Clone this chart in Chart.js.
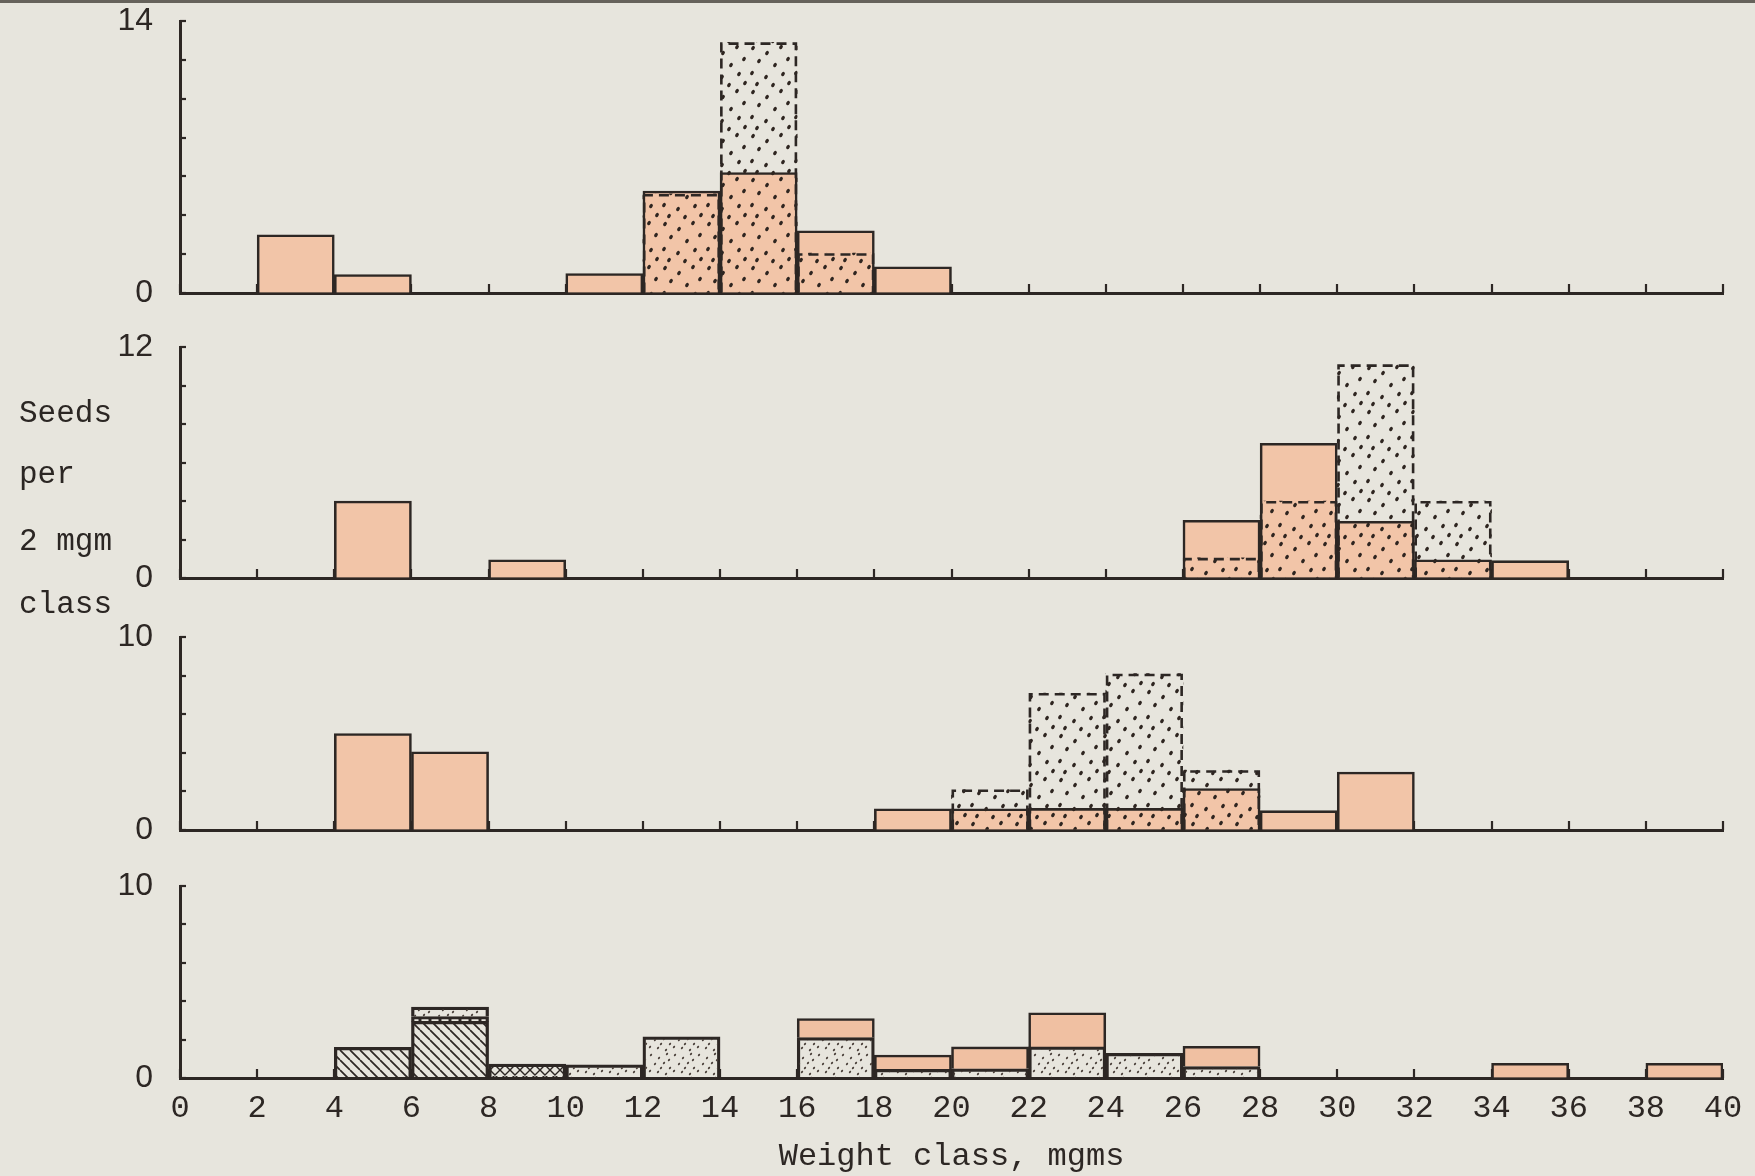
<!DOCTYPE html>
<html><head><meta charset="utf-8">
<script src="https://cdn.jsdelivr.net/npm/chart.js@4.4.1/dist/chart.umd.min.js"></script>
<style>
html,body{margin:0;padding:0;}
body{width:1755px;height:1176px;background:#e7e5dd;position:relative;overflow:hidden;}
#topline{position:absolute;left:0;top:0;width:1755px;height:3px;background:#66625b;}
.panel{position:absolute;left:0;width:1755px;}
.panel canvas{display:block;}
.ylab{position:absolute;left:19px;font-family:"Liberation Mono","DejaVu Sans Mono",monospace;font-size:31px;line-height:31px;color:#2b2623;white-space:pre;}
</style></head>
<body>
<div id="topline"></div>
<div class="panel" style="top:0px;height:315px"><canvas id="c1" width="1755" height="315"></canvas></div>
<div class="panel" style="top:320px;height:282px"><canvas id="c2" width="1755" height="282"></canvas></div>
<div class="panel" style="top:600px;height:252px"><canvas id="c3" width="1755" height="252"></canvas></div>
<div class="panel" style="top:860px;height:316px"><canvas id="c4" width="1755" height="316"></canvas></div>
<div class="ylab" style="top:398px">Seeds</div>
<div class="ylab" style="top:459px">per</div>
<div class="ylab" style="top:526px">2 mgm</div>
<div class="ylab" style="top:589px">class</div>
<script>
// ---- data ----
// weight classes (2 mgm wide), midpoints
const classMid = [1,3,5,7,9,11,13,15,17,19,21,23,25,27,29,31,33,35,37,39];
const xTickLabels = ['0','2','4','6','8','10','12','14','16','18','20','22','24','26','28','30','32','34','36','38','40'];

// panel 1 (top)
const p1Solid  = [null,3.0,0.95,null,null,1.0,5.25,6.2,3.2,1.35,null,null,null,null,null,null,null,null,null,null];
const p1Dashed = [null,null,null,null,null,null,5.1,12.9,2.05,null,null,null,null,null,null,null,null,null,null,null];
// panel 2
const p2Solid  = [null,null,4.0,null,0.95,null,null,null,null,null,null,null,null,3.0,7.0,2.95,0.95,0.9,null,null];
const p2Dashed = [null,null,null,null,null,null,null,null,null,null,null,null,null,1.05,4.0,11.1,4.0,null,null,null];
// panel 3
const p3Solid  = [null,null,5.0,4.05,null,null,null,null,null,1.1,1.1,1.12,1.12,2.15,1.0,3.0,null,null,null,null];
const p3Dashed = [null,null,null,null,null,null,null,null,null,null,2.1,7.1,8.1,3.1,null,null,null,null,null,null];
// panel 4 (bottom, stacked)
const p4Diag    = [null,null,1.6,2.95,null,null,null,null,null,null,null,null,null,null,null,null,null,null,null,null];
const p4Cross   = [null,null,null,0.25,0.73,null,null,null,null,null,null,null,null,null,null,null,null,null,null,null];
const p4Stipple = [null,null,null,0.5,null,0.68,2.15,null,2.1,0.45,0.48,1.62,1.28,0.6,null,null,null,null,null,null];
const p4Orange  = [null,null,null,null,null,null,null,null,1.0,0.75,1.14,1.78,null,1.05,null,null,null,0.77,null,0.77];

const yMax = [14, 12, 10, 10];

// ---- styles ----
const INK = '#2d2724';
const ORANGE = '#f2c5a8';
const ORANGE4 = '#f0c0a2';
const MONO = '"Liberation Mono","DejaVu Sans Mono",monospace';
const SANS = '"Liberation Sans","DejaVu Sans",sans-serif';
const BW = 2.6;

function tile(size, draw){
  const c = document.createElement('canvas'); c.width = c.height = size;
  const g = c.getContext('2d'); draw(g, size);
  return document.createElement('canvas').getContext('2d').createPattern(c, 'repeat');
}
const coarseDots = [[5,4],[19,9],[33,3],[11,17],[27,21],[40,15],[4,29],[18,33],[35,30],[25,41],[9,40],[41,39]];
const fineDots = [[3,3],[11,6],[19,2],[7,12],[16,11],[22,16],[2,19],[10,20],[18,22],[13,16],[21,8]];
const stippleCoarse = tile(44, (g)=>{ g.fillStyle='#2e2520'; coarseDots.forEach(([x,y])=>{ g.beginPath(); g.ellipse(x,y,1.7,2.4,0.5,0,Math.PI*2); g.fill(); }); });
const stippleFine = tile(24, (g)=>{ g.fillStyle='#4a403a'; fineDots.forEach(([x,y])=>{ g.beginPath(); g.ellipse(x,y,1.0,1.4,0.6,0,Math.PI*2); g.fill(); }); });
const diagHatch = tile(10, (g,s)=>{ g.strokeStyle=INK; g.lineWidth=1.7; g.beginPath();
  g.moveTo(-s,0); g.lineTo(0,s); g.moveTo(0,0); g.lineTo(s,s); g.moveTo(s,0); g.lineTo(2*s,s); g.stroke(); });
const crossHatch = tile(10, (g,s)=>{ g.strokeStyle=INK; g.lineWidth=1.4; g.beginPath();
  g.moveTo(-s,0); g.lineTo(0,s); g.moveTo(0,0); g.lineTo(s,s); g.moveTo(s,0); g.lineTo(2*s,s);
  g.moveTo(0,s); g.lineTo(s,0); g.moveTo(-s,s); g.lineTo(0,0); g.moveTo(s,s); g.lineTo(2*s,0); g.stroke(); });

function pts(arr){ return arr.map((v,i)=>({x: classMid[i], y: v})); }

// ---- plugins ----
const axisTicks = {
  id: 'axisTicks',
  beforeDatasetsDraw(chart){
    const {ctx, chartArea, scales:{x, y}} = chart;
    ctx.save(); ctx.strokeStyle = INK; ctx.lineWidth = 2.2;
    x.ticks.forEach(t=>{ const px = Math.round(x.getPixelForValue(t.value));
      ctx.beginPath(); ctx.moveTo(px, chartArea.bottom); ctx.lineTo(px, chartArea.bottom - 9); ctx.stroke(); });
    y.ticks.forEach(t=>{ const py = Math.round(y.getPixelForValue(t.value));
      ctx.beginPath(); ctx.moveTo(chartArea.left, py); ctx.lineTo(chartArea.left + 6, py); ctx.stroke(); });
    ctx.restore();
  }
};
const dashedOutline = {
  id: 'dashedOutline',
  afterDatasetsDraw(chart){
    const ctx = chart.ctx;
    chart.data.datasets.forEach((ds, i)=>{
      if (!ds.dashedOutline) return;
      const meta = chart.getDatasetMeta(i);
      meta.data.forEach((el, j)=>{
        if (ds.data[j].y == null) return;
        const {x, y, base, width} = el.getProps(['x','y','base','width'], true);
        const h = BW / 2;
        const l = x - width/2 + h, r = x + width/2 - h, t = y + h;
        ctx.save(); ctx.setLineDash([10,6]); ctx.lineWidth = BW; ctx.strokeStyle = INK;
        ctx.beginPath(); ctx.moveTo(l, base); ctx.lineTo(l, t); ctx.lineTo(r, t); ctx.lineTo(r, base); ctx.stroke();
        ctx.restore();
      });
    });
  }
};

function baseOptions(max, padTop, xHeight, showX){
  return {
    responsive: false, animation: false, devicePixelRatio: 1,
    layout: { padding: { left: 0, right: 32, top: padTop, bottom: 0 } },
    plugins: { legend: { display: false }, tooltip: { enabled: false } },
    datasets: { bar: { barPercentage: 1, categoryPercentage: 1, grouped: false } },
    scales: {
      x: {
        type: 'linear', min: 0, max: 40, offset: false, z: 1,
        grid: { display: true, drawOnChartArea: false, drawTicks: false, offset: false, color: 'rgba(0,0,0,0)' },
        border: { display: true, color: INK, width: 3 },
        ticks: { display: showX, stepSize: 2, autoSkip: false, maxRotation: 0, padding: 11,
          color: INK, font: { family: MONO, size: 32 },
          callback: (v, i) => xTickLabels[i] },
        title: { display: showX, text: 'Weight class, mgms', color: INK,
          font: { family: MONO, size: 32 }, padding: { top: 0, bottom: 0 } },
        afterFit: (s) => { s.height = xHeight; }
      },
      y: {
        min: 0, max: max,
        grid: { display: true, drawOnChartArea: false, drawTicks: true, tickLength: 27, tickColor: 'rgba(0,0,0,0)', color: 'rgba(0,0,0,0)' },
        border: { display: true, color: INK, width: 3 },
        ticks: { stepSize: 2, padding: 0, autoSkip: false, color: INK, font: { family: SANS, size: 32 },
          callback: (v) => (v === 0 || v === max) ? String(v) : '' },
        afterFit: (s) => { s.width = 180; }
      }
    }
  };
}

function overlayPanel(id, solid, dashed, max, padTop, xHeight){
  new Chart(document.getElementById(id), {
    type: 'bar',
    data: { datasets: [
      { data: pts(dashed), backgroundColor: stippleCoarse, borderWidth: 0, order: 1, dashedOutline: true },
      { data: pts(solid), backgroundColor: ORANGE, borderColor: INK, borderWidth: BW, order: 2 }
    ]},
    options: baseOptions(max, padTop, xHeight, false),
    plugins: [axisTicks, dashedOutline]
  });
}

// panel 1: plot area 21..293 (canvas 0..315)
overlayPanel('c1', p1Solid, p1Dashed, yMax[0], 21, 22);
// panel 2: canvas top 320; plot area 347..578
overlayPanel('c2', p2Solid, p2Dashed, yMax[1], 27, 24);
// panel 3: canvas top 600; plot area 637..830
overlayPanel('c3', p3Solid, p3Dashed, yMax[2], 37, 22);

// panel 4: canvas top 860; plot area 886..1078, stacked
const opt4 = baseOptions(yMax[3], 26, 98, true);
opt4.scales.x.stacked = true; opt4.scales.y.stacked = true;
new Chart(document.getElementById('c4'), {
  type: 'bar',
  data: { datasets: [
    { data: pts(p4Diag), backgroundColor: diagHatch, borderColor: INK, borderWidth: BW },
    { data: pts(p4Cross), backgroundColor: crossHatch, borderColor: INK, borderWidth: BW },
    { data: pts(p4Stipple), backgroundColor: stippleFine, borderColor: INK, borderWidth: BW },
    { data: pts(p4Orange), backgroundColor: ORANGE4, borderColor: INK, borderWidth: BW }
  ]},
  options: opt4,
  plugins: [axisTicks]
});
</script>
</body></html>
